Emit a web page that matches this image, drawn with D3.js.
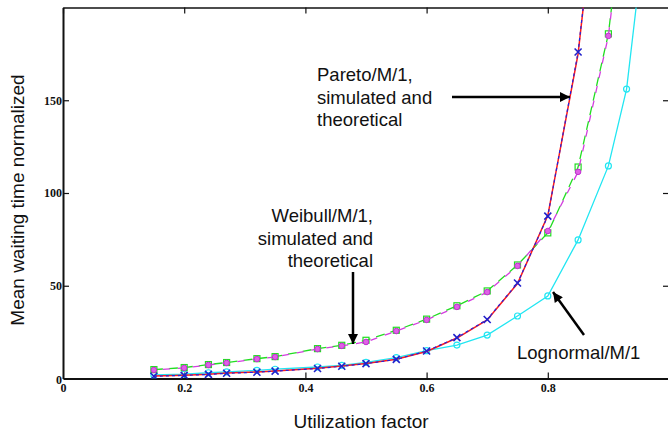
<!DOCTYPE html>
<html>
<head>
<meta charset="utf-8">
<script src="https://cdn.jsdelivr.net/npm/d3@7/dist/d3.min.js"></script>
<style>
html,body{margin:0;padding:0;background:#fff;}
svg{display:block;}
</style>
</head>
<body>
<svg id="chart" width="668" height="435"></svg>
<script>
// ---- data ----
const xTicks = [0, 0.2, 0.4, 0.6, 0.8, 1.0];
const xTickLabels = ["0", "0.2", "0.4", "0.6", "0.8", ""];
const yTicks = [0, 50, 100, 150];
const yTickLabels = ["0", "50", "100", "150"];

const paretoX      = [0.15,0.2,0.24,0.27,0.32,0.35,0.42,0.46,0.5,0.55,0.6,0.65,0.7,0.75,0.8,0.85,0.9];
const paretoSim    = [1.2,1.7,2.2,2.8,3.4,4.0,5.4,6.6,8.0,10.3,14.8,22.0,31.8,51.5,87.5,176,320];
const paretoTheory = [1.3,1.8,2.3,2.9,3.5,4.1,5.5,6.7,8.1,10.4,14.6,21.8,31.6,51.2,87.8,175,322];

const weibullX      = [0.15,0.2,0.24,0.27,0.32,0.35,0.42,0.46,0.5,0.55,0.6,0.65,0.7,0.75,0.8,0.85,0.9,0.95];
const weibullSim    = [4.6,5.7,7.3,8.4,10.5,11.6,15.9,17.6,19.7,25.6,31.6,38.6,46.6,60.7,79.5,111.4,184.7,320];
const weibullTheory = [4.8,5.9,7.5,8.6,10.7,11.8,16.1,17.9,20.6,26.0,32.0,39.2,47.2,61.2,78.5,114.0,185.8,322];

const lognormX   = [0.15,0.2,0.24,0.27,0.32,0.35,0.42,0.46,0.5,0.55,0.6,0.65,0.7,0.75,0.8,0.85,0.9,0.93,0.96];
const lognormSim = [1.9,2.4,3.1,3.6,4.4,5.0,6.2,7.1,8.7,11.2,15.0,18.0,23.4,33.7,44.5,74.7,114.6,156,240];

// ---- layout ----
const svg = d3.select("#chart");
const pLeft = 63, pRight = 669, pTop = 7.5, pBottom = 378.5;
const x = d3.scaleLinear().domain([0, 1]).range([pLeft, pRight]);
const y = d3.scaleLinear().domain([0, 200]).range([pBottom, pTop]);

const defs = svg.append("defs");
defs.append("clipPath").attr("id", "plotclip")
  .append("rect").attr("x", pLeft).attr("y", pTop).attr("width", pRight - pLeft).attr("height", pBottom - pTop);
defs.append("marker").attr("id", "arrowhead")
  .attr("viewBox", "0 0 10 10").attr("refX", 10).attr("refY", 5)
  .attr("markerWidth", 12).attr("markerHeight", 10).attr("markerUnits", "userSpaceOnUse")
  .attr("orient", "auto")
  .append("path").attr("d", "M0,0 L10,5 L0,10 Z").attr("fill", "#000");

// ---- axes ----
const tickFont = "'Liberation Serif','Times New Roman',serif";
const fmtX = (d, i) => xTickLabels[i];
const fmtY = (d, i) => yTickLabels[i];

const xAxisB = d3.axisBottom(x).tickValues(xTicks).tickFormat(fmtX).tickSizeInner(-6).tickSizeOuter(0).tickPadding(5);
const gxb = svg.append("g").attr("transform", `translate(0,${pBottom})`).call(xAxisB);
const xAxisT = d3.axisTop(x).tickValues(xTicks).tickFormat("").tickSizeInner(-6).tickSizeOuter(0);
const gxt = svg.append("g").attr("transform", `translate(0,${pTop})`).call(xAxisT);
const yAxisL = d3.axisLeft(y).tickValues(yTicks).tickFormat(fmtY).tickSizeInner(-6).tickSizeOuter(0).tickPadding(1);
const gyl = svg.append("g").attr("transform", `translate(${pLeft},0)`).call(yAxisL);
const yAxisR = d3.axisRight(y).tickValues(yTicks).tickFormat("").tickSizeInner(-6).tickSizeOuter(0);
const gyr = svg.append("g").attr("transform", `translate(${pRight},0)`).call(yAxisR);

[gxb, gxt, gyl, gyr].forEach(g => {
  g.selectAll("text").attr("font-family", tickFont).attr("font-weight", "bold").attr("font-size", 12).attr("fill", "#111");
  g.selectAll(".tick line").attr("stroke", "#111").attr("stroke-width", 1.2);
  g.select(".domain").attr("stroke", "#111").attr("stroke-width", 2);
});
gxt.select(".domain").attr("stroke-width", 1.5);
gxb.selectAll(".tick").filter(d => d === 0).select("line").remove();
gyl.selectAll(".tick").filter(d => d === 0).select("line").remove();
gyl.selectAll(".tick").filter(d => d === 0).select("text").attr("dy", "0.45em");

// ---- series ----
const plot = svg.append("g").attr("clip-path", "url(#plotclip)");
const line = d3.line().x(d => x(d[0])).y(d => y(d[1]));
const zipXY = (xs, ys) => xs.map((v, i) => [v, ys[i]]);

const pT = zipXY(paretoX, paretoTheory);
const pS = zipXY(paretoX, paretoSim);
const wT = zipXY(weibullX, weibullTheory);
const wS = zipXY(weibullX, weibullSim);
const lS = zipXY(lognormX, lognormSim);

// lognormal (cyan)
plot.append("path").datum(lS).attr("d", line).attr("fill", "none").attr("stroke", "#22e6f2").attr("stroke-width", 1.3);
plot.selectAll(".lnpt").data(lS).enter().append("circle")
  .attr("cx", d => x(d[0])).attr("cy", d => y(d[1])).attr("r", 3)
  .attr("fill", "none").attr("stroke", "#22e6f2").attr("stroke-width", 1.2);

// weibull theoretical (green) + simulated (magenta dashed)
plot.append("path").datum(wT).attr("d", line).attr("fill", "none").attr("stroke", "#22dd22").attr("stroke-width", 1.3)
  .attr("stroke-dasharray", "9,6");
plot.selectAll(".wtpt").data(wT).enter().append("rect")
  .attr("x", d => x(d[0]) - 3).attr("y", d => y(d[1]) - 3).attr("width", 6).attr("height", 6)
  .attr("fill", "none").attr("stroke", "#22dd22").attr("stroke-width", 1.2);
plot.append("path").datum(wS).attr("d", line).attr("fill", "none").attr("stroke", "#d43ee0").attr("stroke-width", 1.3)
  .attr("stroke-dasharray", "7,8").attr("stroke-dashoffset", 6);
plot.selectAll(".wspt").data(wS).enter().append("circle")
  .attr("cx", d => x(d[0])).attr("cy", d => y(d[1])).attr("r", 2.8)
  .attr("fill", "#e060e6").attr("stroke", "#c030d0").attr("stroke-width", 1);

// pareto theoretical (red) + simulated (blue dashed with x)
plot.append("path").datum(pT).attr("d", line).attr("fill", "none").attr("stroke", "#ff1a1a").attr("stroke-width", 1.5);
plot.append("path").datum(pS).attr("d", line).attr("fill", "none").attr("stroke", "#2222dd").attr("stroke-width", 1.2)
  .attr("stroke-dasharray", "3,3");
const xm = plot.selectAll(".pspt").data(pS).enter().append("g")
  .attr("transform", d => `translate(${x(d[0])},${y(d[1])})`);
xm.append("path").attr("d", "M-3.5,-3.5L3.5,3.5M-3.5,3.5L3.5,-3.5").attr("stroke", "#2222cc").attr("stroke-width", 1.6);

// ---- axis titles ----
const sans = "'Liberation Sans',Arial,Helvetica,sans-serif";
svg.append("text").attr("x", 361).attr("y", 428).attr("text-anchor", "middle")
  .attr("font-family", sans).attr("font-size", 19).attr("fill", "#111").text("Utilization factor");
svg.append("text").attr("transform", "translate(24,200) rotate(-90)").attr("text-anchor", "middle")
  .attr("font-family", sans).attr("font-size", 19).attr("fill", "#111").text("Mean waiting time normalized");

// ---- annotations ----
function block(lines, xPos, yFirst, anchor, size) {
  const t = svg.append("text").attr("font-family", sans).attr("font-size", size).attr("fill", "#111").attr("text-anchor", anchor);
  lines.forEach((s, i) => t.append("tspan").attr("x", xPos).attr("y", yFirst + i * 22.5).text(s));
}
block(["Pareto/M/1,", "simulated and", "theoretical"], 317, 81, "start", 18.5);
block(["Weibull/M/1,", "simulated and", "theoretical"], 373, 222, "end", 18.5);
block(["Lognormal/M/1"], 517, 359, "start", 18.5);

function arrow(x1, y1, x2, y2) {
  svg.append("line").attr("x1", x1).attr("y1", y1).attr("x2", x2).attr("y2", y2)
    .attr("stroke", "#000").attr("stroke-width", 2.5).attr("marker-end", "url(#arrowhead)");
}
arrow(452, 97, 570, 97);
arrow(353, 272, 353, 344);
arrow(584, 335, 553, 292);
</script>
</body>
</html>
